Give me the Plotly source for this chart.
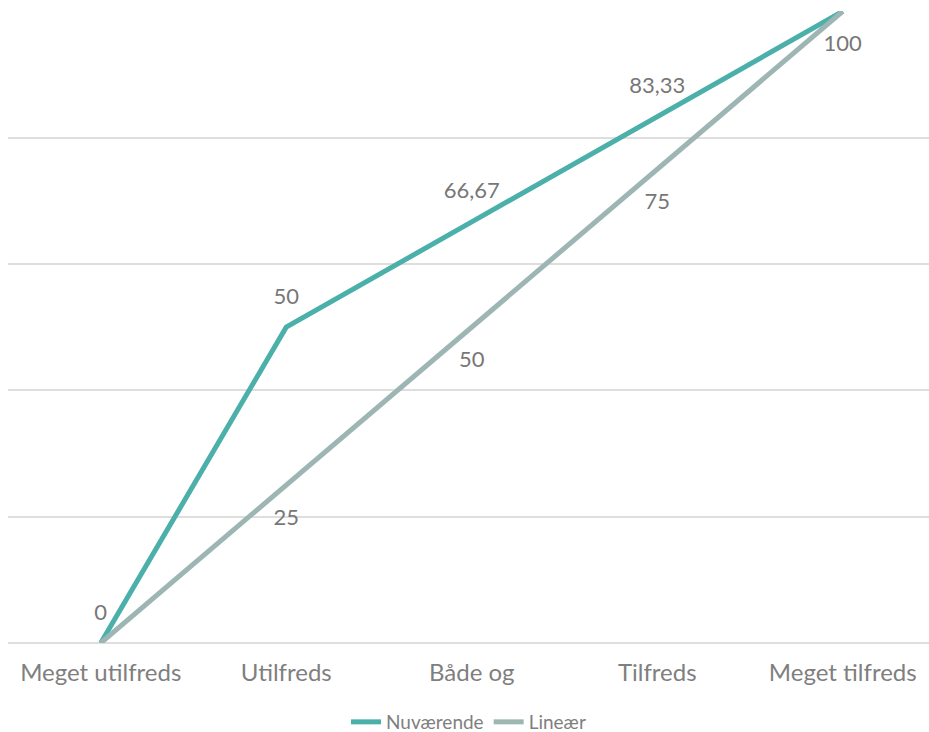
import plotly.graph_objects as go

categories = ["Meget utilfreds", "Utilfreds", "Både og", "Tilfreds", "Meget tilfreds"]
nuvaerende = [0, 50, 66.67, 83.33, 100]
lineaer = [0, 25, 50, 75, 100]

def fmt(v):
    s = f"{v:.2f}".rstrip("0").rstrip(".")
    return s.replace(".", ",")

# labels hidden in the reference (clipped/overlapped)
nuv_text = [fmt(v) for v in nuvaerende]
nuv_text[-1] = ""
lin_text = [fmt(v) for v in lineaer]
lin_text[0] = ""

FONT = "Century Gothic, Lato, sans-serif"
LBL = dict(size=22, color="#777777", family=FONT)
CLEAR = "rgba(0,0,0,0)"

fig = go.Figure()
fig.add_trace(go.Scatter(
    x=categories, y=nuvaerende, name="Nuværende", mode="lines+markers+text",
    line=dict(color="#4bafaa", width=5),
    marker=dict(size=27, color=CLEAR, line=dict(width=0)),
    text=nuv_text, textposition="top center", textfont=LBL,
    cliponaxis=False, hoverinfo="x+y",
))
fig.add_trace(go.Scatter(
    x=categories, y=lineaer, name="Lineær", mode="lines+markers+text",
    line=dict(color="#9db6b4", width=5),
    marker=dict(size=36, color=CLEAR, line=dict(width=0)),
    text=lin_text, textposition="bottom center", textfont=LBL,
    cliponaxis=False, hoverinfo="x+y",
))

fig.update_layout(
    width=929, height=732,
    margin=dict(l=8, r=0, t=11, b=89, autoexpand=False),
    paper_bgcolor="white", plot_bgcolor="white",
    font=dict(family=FONT, color="#7f7f7f"),
    showlegend=True,
    legend=dict(orientation="h", x=0.5, xanchor="center",
                yref="container", y=(732 - 722) / 732, yanchor="middle",
                font=dict(size=19, color="#7f7f7f", family=FONT)),
    xaxis=dict(type="category", range=[-0.5, 4.465], showgrid=False,
               showline=False, ticks="outside", ticklen=8, tickcolor=CLEAR,
               tickfont=dict(size=24, color="#7f7f7f", family=FONT)),
    yaxis=dict(range=[0, 100.05], dtick=20, showgrid=True, gridcolor="#dedede", gridwidth=2,
               showticklabels=False, zeroline=True, zerolinecolor="#dedede", zerolinewidth=2,
               showline=False),
)

fig.write_html("out.html")
